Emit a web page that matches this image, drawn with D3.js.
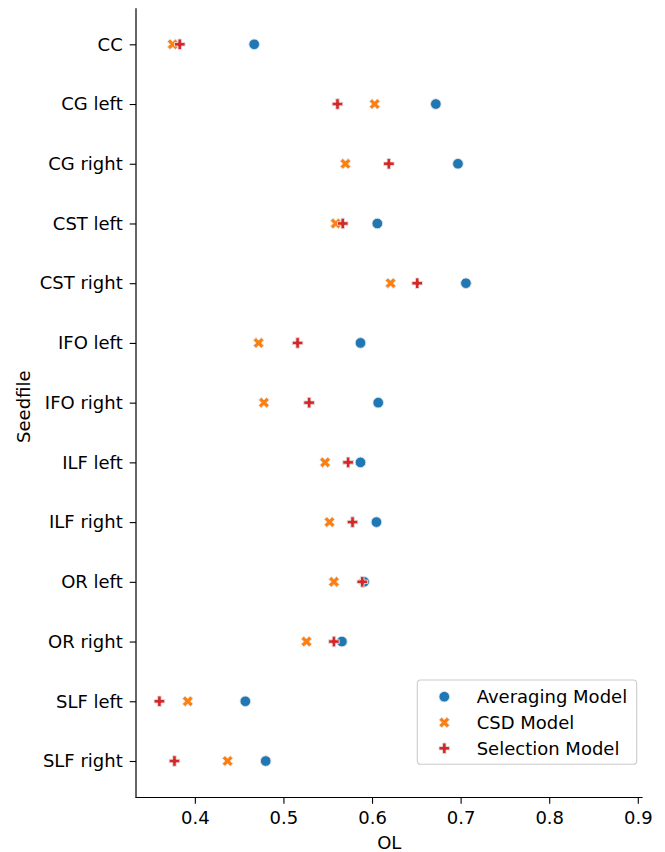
<!DOCTYPE html>
<html>
<head>
<meta charset="utf-8">
<script src="https://cdn.jsdelivr.net/npm/d3@7"></script>
<style>
  html, body { margin: 0; padding: 0; background: #fff; }
  svg { display: block; font-family: "DejaVu Sans", sans-serif; }
</style>
</head>
<body>
<svg id="chart" width="665" height="852"></svg>
<script>
// Seed regions (y categories)
const seedfiles = ["CC", "CG left", "CG right", "CST left", "CST right",
  "IFO left", "IFO right", "ILF left", "ILF right", "OR left", "OR right",
  "SLF left", "SLF right"];

// OL per seed region, one array per model
const averagingOL = [0.467, 0.672, 0.697, 0.606, 0.706, 0.587, 0.607, 0.587, 0.605, 0.591, 0.566, 0.457, 0.480];
const csdOL       = [0.375, 0.603, 0.570, 0.559, 0.621, 0.472, 0.478, 0.547, 0.552, 0.557, 0.526, 0.392, 0.437];
const selectionOL = [0.383, 0.561, 0.619, 0.567, 0.651, 0.516, 0.529, 0.573, 0.578, 0.589, 0.557, 0.360, 0.377];

const modelNames = ["Averaging Model", "CSD Model", "Selection Model"];
const xTicks = [0.4, 0.5, 0.6, 0.7, 0.8, 0.9];

const colors = ["#1f77b4", "#ff7f0e", "#d62728"];
const shapes = ["circle", "x", "plus"];

const series = [averagingOL, csdOL, selectionOL].map((vals, i) => ({
  name: modelNames[i], color: colors[i], shape: shapes[i],
  points: vals.map((v, j) => ({ seed: seedfiles[j], ol: v }))
}));

const svg = d3.select("#chart");
const plotLeft = 136, plotRight = 642.6, plotTop = 8.3, plotBottom = 797.5;
const fontSize = 18;

const x = d3.scaleLinear().domain([0.33358, 0.90542]).range([plotLeft, plotRight]);
const y = d3.scalePoint().domain(seedfiles).range([44.3, 761]);

// marker outlines inside a box of side s centred on the origin
function markerPath(shape, s) {
  if (shape === "circle") {
    const r = s / 2;
    return `M${r},0A${r},${r} 0 1,1 ${-r},0A${r},${r} 0 1,1 ${r},0Z`;
  }
  let pts;
  if (shape === "x") {
    pts = [[-1,-2],[0,-1],[1,-2],[2,-1],[1,0],[2,1],[1,2],[0,1],[-1,2],[-2,1],[-1,0],[-2,-1]]
      .map(([a, b]) => [a / 4 * s, b / 4 * s]);
  } else {
    pts = [[-1,-3],[1,-3],[1,-1],[3,-1],[3,1],[1,1],[1,3],[-1,3],[-1,1],[-3,1],[-3,-1],[-1,-1]]
      .map(([a, b]) => [a / 6 * s, b / 6 * s]);
  }
  return "M" + pts.map(p => p.join(",")).join("L") + "Z";
}

const markerSize = 10.6;

// Axes
const yAxis = d3.axisLeft(y).tickSize(6.3).tickPadding(7).tickSizeOuter(0);
const gy = svg.append("g").attr("transform", `translate(${plotLeft},0)`).call(yAxis);
const xAxis = d3.axisBottom(x).tickValues(xTicks).tickFormat(d3.format(".1f"))
  .tickSize(6.3).tickPadding(7.5).tickSizeOuter(0);
const gx = svg.append("g").attr("transform", `translate(0,${plotBottom})`).call(xAxis);

[gx, gy].forEach(g => {
  g.select(".domain").remove();
  g.selectAll(".tick line").attr("stroke", "#000").attr("stroke-width", 1.1);
  g.selectAll(".tick text").attr("fill", "#000")
    .style("font-size", fontSize + "px").style("font-family", "DejaVu Sans");
});

// spines (left and bottom only)
svg.append("line").attr("x1", plotLeft).attr("x2", plotLeft).attr("y1", plotTop).attr("y2", plotBottom)
  .attr("stroke", "#000").attr("stroke-width", 1.2);
svg.append("line").attr("x1", plotLeft - 0.6).attr("x2", plotRight).attr("y1", plotBottom).attr("y2", plotBottom)
  .attr("stroke", "#000").attr("stroke-width", 1.2);

// axis labels
svg.append("text").attr("x", (plotLeft + plotRight) / 2).attr("y", 849)
  .attr("text-anchor", "middle").style("font-size", fontSize + "px").text("OL");
svg.append("text").attr("transform", `translate(29.5,${406.7}) rotate(-90)`)
  .attr("text-anchor", "middle").style("font-size", fontSize + "px").text("Seedfile");

// points, one layer per model
series.forEach(s => {
  svg.append("g").selectAll("path").data(s.points).join("path")
    .attr("d", markerPath(s.shape, markerSize))
    .attr("transform", d => `translate(${x(d.ol)},${y(d.seed)})`)
    .attr("fill", s.color)
    .attr("stroke", "#e2e2e2")
    .attr("stroke-width", 0.9);
});

// legend
const lg = svg.append("g");
lg.append("rect").attr("x", 417.3).attr("y", 680).attr("width", 219.4).attr("height", 84.3)
  .attr("rx", 3.5).attr("fill", "#fff").attr("fill-opacity", 0.8)
  .attr("stroke", "#cccccc").attr("stroke-width", 1.1);
const rowY = [696.7, 722.5, 748.3];
series.forEach((s, i) => {
  lg.append("path").attr("d", markerPath(s.shape, markerSize))
    .attr("transform", `translate(444.3,${rowY[i]})`)
    .attr("fill", s.color).attr("stroke", "#e2e2e2").attr("stroke-width", 0.9);
  lg.append("text").attr("x", 476.7).attr("y", rowY[i]).attr("dy", "0.36em")
    .style("font-size", fontSize + "px").text(s.name);
});
</script>
</body>
</html>
